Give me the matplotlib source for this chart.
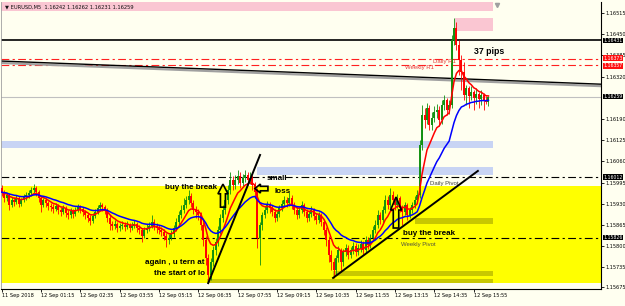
import numpy as np
import pandas as pd
import matplotlib
matplotlib.use('Agg')
import matplotlib.pyplot as plt
from matplotlib.patches import Rectangle, Polygon
from matplotlib.transforms import blended_transform_factory

# EURUSD M5, 11/12 Sep 2018, one candle every 5 minutes
open_first = 1.15979
close = [
    1.15966, 1.15948, 1.15957, 1.15926, 1.15942, 1.15936, 1.15948, 1.15929, 1.15942, 1.15951,
    1.15957, 1.15963, 1.15972, 1.15979, 1.15966, 1.15948, 1.15926, 1.15942, 1.15933, 1.15923,
    1.15920, 1.15914, 1.15923, 1.15911, 1.15905, 1.15917, 1.15902, 1.15896, 1.15908, 1.15899,
    1.15911, 1.15920, 1.15914, 1.15905, 1.15896, 1.15887, 1.15877, 1.15893, 1.15905, 1.15917,
    1.15926, 1.15920, 1.15911, 1.15887, 1.15868, 1.15862, 1.15868, 1.15856, 1.15862, 1.15865,
    1.15859, 1.15865, 1.15856, 1.15862, 1.15868, 1.15856, 1.15850, 1.15831, 1.15850, 1.15856,
    1.15862, 1.15874, 1.15862, 1.15856, 1.15850, 1.15844, 1.15831, 1.15819, 1.15825, 1.15837,
    1.15856, 1.15874, 1.15896, 1.15911, 1.15926, 1.15942, 1.15954, 1.15933, 1.15911, 1.15905,
    1.15896, 1.15865, 1.15819, 1.15764, 1.15712, 1.15752, 1.15788, 1.15813, 1.15850, 1.15887,
    1.15911, 1.15942, 1.15972, 1.16003, 1.15988, 1.16003, 1.16015, 1.15994, 1.16009, 1.16018,
    1.16003, 1.16009, 1.15988, 1.15966, 1.15825, 1.15865, 1.15896, 1.15911, 1.15926, 1.15917,
    1.15905, 1.15887, 1.15899, 1.15917, 1.15929, 1.15942, 1.15933, 1.15948, 1.15926, 1.15911,
    1.15896, 1.15911, 1.15926, 1.15905, 1.15887, 1.15899, 1.15911, 1.15893, 1.15880, 1.15896,
    1.15874, 1.15850, 1.15819, 1.15773, 1.15752, 1.15727, 1.15764, 1.15788, 1.15752, 1.15782,
    1.15795, 1.15773, 1.15788, 1.15801, 1.15782, 1.15795, 1.15807, 1.15788, 1.15819, 1.15804,
    1.15825, 1.15850, 1.15865, 1.15896, 1.15880, 1.15911, 1.15942, 1.15926, 1.15957, 1.15942,
    1.15926, 1.15948, 1.15917, 1.15905, 1.15926, 1.15896, 1.15911, 1.15926, 1.15942, 1.15957,
    1.16110, 1.16202, 1.16187, 1.16224, 1.16172, 1.16193, 1.16211, 1.16218, 1.16187, 1.16233,
    1.16248, 1.16218, 1.16233, 1.16432, 1.16469, 1.16417, 1.16371, 1.16334, 1.16264, 1.16285,
    1.16261, 1.16273, 1.16254, 1.16267, 1.16251, 1.16264, 1.16248, 1.16242, 1.16259,
]
high = [
    1.15988, 1.15972, 1.15963, 1.15963, 1.15951, 1.15951, 1.15957, 1.15954, 1.15948, 1.15960,
    1.15966, 1.15972, 1.15982, 1.15991, 1.15985, 1.15972, 1.15954, 1.15948, 1.15948, 1.15939,
    1.15933, 1.15929, 1.15933, 1.15929, 1.15920, 1.15926, 1.15923, 1.15911, 1.15917, 1.15914,
    1.15920, 1.15929, 1.15926, 1.15920, 1.15911, 1.15902, 1.15896, 1.15902, 1.15914, 1.15926,
    1.15936, 1.15933, 1.15926, 1.15917, 1.15896, 1.15877, 1.15880, 1.15874, 1.15871, 1.15877,
    1.15874, 1.15877, 1.15871, 1.15874, 1.15880, 1.15874, 1.15865, 1.15856, 1.15859, 1.15868,
    1.15874, 1.15896, 1.15883, 1.15871, 1.15865, 1.15859, 1.15853, 1.15841, 1.15837, 1.15850,
    1.15865, 1.15887, 1.15908, 1.15926, 1.15948, 1.15954, 1.15972, 1.15963, 1.15942, 1.15923,
    1.15914, 1.15905, 1.15874, 1.15831, 1.15776, 1.15764, 1.15801, 1.15825, 1.15862, 1.15899,
    1.15926, 1.15957, 1.15988, 1.16028, 1.16015, 1.16018, 1.16034, 1.16028, 1.16021, 1.16034,
    1.16028, 1.16028, 1.16018, 1.15997, 1.15979, 1.15874, 1.15905, 1.15923, 1.15939, 1.15936,
    1.15926, 1.15914, 1.15908, 1.15926, 1.15942, 1.15954, 1.15951, 1.15966, 1.15957, 1.15936,
    1.15920, 1.15920, 1.15939, 1.15933, 1.15914, 1.15908, 1.15923, 1.15917, 1.15902, 1.15905,
    1.15902, 1.15883, 1.15859, 1.15831, 1.15788, 1.15764, 1.15773, 1.15801, 1.15795, 1.15791,
    1.15807, 1.15804, 1.15798, 1.15813, 1.15810, 1.15807, 1.15819, 1.15816, 1.15831, 1.15828,
    1.15837, 1.15862, 1.15880, 1.15911, 1.15905, 1.15923, 1.15957, 1.15954, 1.15979, 1.15969,
    1.15951, 1.15960, 1.15954, 1.15926, 1.15936, 1.15933, 1.15920, 1.15936, 1.15954, 1.15972,
    1.16126, 1.16233, 1.16224, 1.16239, 1.16233, 1.16211, 1.16230, 1.16236, 1.16230, 1.16248,
    1.16264, 1.16254, 1.16248, 1.16448, 1.16500, 1.16487, 1.16432, 1.16386, 1.16365, 1.16294,
    1.16291, 1.16291, 1.16279, 1.16285, 1.16273, 1.16279, 1.16270, 1.16261, 1.16262,
]
low = [
    1.15954, 1.15936, 1.15939, 1.15911, 1.15920, 1.15923, 1.15929, 1.15920, 1.15923, 1.15936,
    1.15942, 1.15948, 1.15954, 1.15963, 1.15954, 1.15936, 1.15905, 1.15920, 1.15920, 1.15911,
    1.15908, 1.15902, 1.15908, 1.15899, 1.15893, 1.15899, 1.15890, 1.15883, 1.15887, 1.15887,
    1.15893, 1.15905, 1.15902, 1.15893, 1.15883, 1.15874, 1.15865, 1.15871, 1.15887, 1.15899,
    1.15911, 1.15908, 1.15899, 1.15874, 1.15850, 1.15850, 1.15853, 1.15844, 1.15847, 1.15853,
    1.15847, 1.15853, 1.15844, 1.15850, 1.15856, 1.15844, 1.15837, 1.15813, 1.15825, 1.15841,
    1.15847, 1.15856, 1.15850, 1.15841, 1.15837, 1.15831, 1.15819, 1.15798, 1.15807, 1.15819,
    1.15828, 1.15847, 1.15865, 1.15887, 1.15902, 1.15917, 1.15929, 1.15920, 1.15899, 1.15887,
    1.15880, 1.15850, 1.15801, 1.15742, 1.15687, 1.15696, 1.15739, 1.15773, 1.15801, 1.15837,
    1.15874, 1.15899, 1.15929, 1.15960, 1.15972, 1.15975, 1.15991, 1.15979, 1.15982, 1.15997,
    1.15988, 1.15991, 1.15972, 1.15948, 1.15795, 1.15742, 1.15850, 1.15887, 1.15902, 1.15902,
    1.15893, 1.15874, 1.15877, 1.15890, 1.15908, 1.15920, 1.15920, 1.15923, 1.15914, 1.15899,
    1.15883, 1.15887, 1.15902, 1.15893, 1.15874, 1.15877, 1.15890, 1.15880, 1.15868, 1.15871,
    1.15862, 1.15834, 1.15801, 1.15752, 1.15727, 1.15703, 1.15712, 1.15752, 1.15721, 1.15739,
    1.15770, 1.15761, 1.15764, 1.15776, 1.15770, 1.15773, 1.15782, 1.15776, 1.15779, 1.15791,
    1.15795, 1.15816, 1.15841, 1.15856, 1.15868, 1.15871, 1.15902, 1.15914, 1.15917, 1.15929,
    1.15911, 1.15917, 1.15905, 1.15865, 1.15896, 1.15880, 1.15887, 1.15902, 1.15917, 1.15933,
    1.15948, 1.16095, 1.16162, 1.16175, 1.16156, 1.16156, 1.16181, 1.16193, 1.16169, 1.16175,
    1.16218, 1.16202, 1.16205, 1.16224, 1.16417, 1.16402, 1.16325, 1.16279, 1.16248, 1.16233,
    1.16224, 1.16248, 1.16218, 1.16236, 1.16224, 1.16233, 1.16218, 1.16236, 1.16231,
]

time_labels = ['11 Sep 2018', '12 Sep 01:15', '12 Sep 02:35', '12 Sep 03:55', '12 Sep 05:15',
               '12 Sep 06:35', '12 Sep 07:55', '12 Sep 09:15', '12 Sep 10:35', '12 Sep 11:55',
               '12 Sep 13:15', '12 Sep 14:35', '12 Sep 15:55']
price_ticks = [1.16515, 1.16450, 1.16385, 1.16320, 1.16190, 1.16125, 1.16060,
               1.15995, 1.15930, 1.15865, 1.15800, 1.15735, 1.15675]

resistance = 1.16431
daily_r1 = 1.16373
weekly_r1 = 1.16357
daily_pivot = 1.16012
weekly_pivot = 1.15826
trend_start, trend_end = 1.16368, 1.16297   # long falling line, at chart edges

# zones: first bar, last bar, bottom price, top price
pink_zones = [(-1, 199.8, 1.16521, 1.16600), (184.4, 199.8, 1.16460, 1.16500)]
blue_zones = [(-1, 199.8, 1.16102, 1.16123), (103.9, 199.8, 1.16019, 1.16043)]
olive_zones = [(168.1, 199.8, 1.15868, 1.15887), (134.8, 199.8, 1.15709, 1.15724),
               (83.5, 199.8, 1.15687, 1.15700)]
yellow_zone = (-1, 250, 1.15687, 1.15985)

# hand drawn trend lines (bar, price)
uturn_line = [(84.0, 1.15687), (105.1, 1.16080)]
support_line = [(134.8, 1.15703), (193.7, 1.16031)]

bg = '#fffff0'
xmin, xmax = -0.285, 243.79
ymin, ymax = 1.15669, 1.16549

fig = plt.figure(figsize=(6.25, 3.06), dpi=100, facecolor=bg)
ax = fig.add_axes([1 / 625, 17 / 306, 600 / 625, 287 / 306], facecolor=bg)
ax.set_xlim(xmin, xmax)
ax.set_ylim(ymin, ymax)

for x0, x1, y0, y1 in pink_zones:
    ax.add_patch(Rectangle((x0, y0), x1 - x0, y1 - y0, fc='#fac6d2', ec='none', zorder=1))
x0, x1, y0, y1 = yellow_zone
ax.add_patch(Rectangle((x0, y0), x1 - x0, y1 - y0, fc='#ffff00', ec='none', zorder=1))
for x0, x1, y0, y1 in blue_zones:
    ax.add_patch(Rectangle((x0, y0), x1 - x0, y1 - y0, fc='#c8d4f4', ec='none', zorder=1))
for x0, x1, y0, y1 in olive_zones:
    ax.add_patch(Rectangle((x0, y0), x1 - x0, y1 - y0, fc='#c8c800', ec='none', zorder=1.1))

dashdot = (0, (7, 3, 2, 3))
ax.axhline(resistance, color='black', lw=1.2, zorder=2)
ax.axhline(daily_r1, color='#ff2020', lw=0.8, ls=dashdot, zorder=2)
ax.axhline(weekly_r1, color='#ff2020', lw=0.8, ls=dashdot, zorder=2)
ax.axhline(close[-1], color='#c0c0c0', lw=0.8, zorder=2)
ax.axhline(daily_pivot, color='black', lw=0.8, ls=dashdot, zorder=2)
ax.axhline(weekly_pivot, color='black', lw=0.8, ls=dashdot, zorder=2)
ax.plot([xmin, xmax], [trend_start - 0.00006, trend_end - 0.00006], color='#a0a0a0', lw=1.6, zorder=2)
ax.plot([xmin, xmax], [trend_start, trend_end], color='black', lw=1.0, zorder=2)

# chart shift marker
ax.plot([201.5], [1.16540], marker='v', ms=3, color='#a0a0a0', zorder=2, clip_on=False)

# candles
opens = [open_first] + close[:-1]
n = len(close)
bars = np.arange(n)
up = np.array(close) >= np.array(opens)
cols = np.where(up, '#10900f', '#ff0000')
ax.vlines(bars, low, high, colors=cols, lw=0.6, zorder=3)
ax.vlines(bars, opens, close, colors=cols, lw=1.4, zorder=3)

# moving averages
s = pd.Series(close)
ax.plot(bars, s.ewm(span=8, adjust=False).mean(), color='#ff0000', lw=1.1, zorder=4)
ax.plot(bars, s.ewm(span=21, adjust=False).mean(), color='#0000ff', lw=1.1, zorder=4)

# trend lines drawn on the chart
for line in (uturn_line, support_line):
    ax.plot([p[0] for p in line], [p[1] for p in line], color='black', lw=1.4, zorder=5)


def hollow_arrow(x, y, w, h, direction='up'):
    sx = (xmax - xmin) / 600.0
    sy = (ymax - ymin) / 287.0
    sw, hl = 0.5 * w, 0.42 * h
    pts = [(-sw / 2, 0), (sw / 2, 0), (sw / 2, h - hl), (w / 2, h - hl), (0, h),
           (-w / 2, h - hl), (-sw / 2, h - hl)]
    if direction == 'left':
        pts = [(-py, px) for px, py in pts]
    poly = [(x + px * sx, y + py * sy) for px, py in pts]
    ax.add_patch(Polygon(poly, closed=True, fill=False, ec='black', lw=1.2, zorder=6))


hollow_arrow(90.0, 1.15920, 10, 23)
hollow_arrow(160.4, 1.15856, 11, 31)
hollow_arrow(108.3, 1.15977, 9, 13, 'left')

note = dict(family='Liberation Sans', fontweight='bold', fontsize=5.8, color='black', zorder=7)
ax.text(66.4, 1.15979, 'buy the break', va='center', **note)
ax.text(107.9, 1.16009, 'small', va='center', **note)
ax.text(110.8, 1.15969, 'loss', va='center', **note)
ax.text(82.7, 1.15749, 'again , u tern at', ha='right', va='center', **note)
ax.text(82.7, 1.15715, 'the start of lo', ha='right', va='center', **note)
ax.text(163.2, 1.15840, 'buy the break', va='center', **note)
ax.text(192.1, 1.16398, '37 pips', va='center', **dict(note, fontsize=6.3))

lab = dict(family='Liberation Sans', fontsize=4.3, va='center', zorder=7)
ax.text(174.2, 1.15994, 'Daily Pivot', color='#404040', **lab)
ax.text(162.4, 1.15805, 'Weekly Pivot', color='#505040', **lab)
ax.text(175.4, 1.16367, 'Daily R1', color='#e83a3a', **lab)
ax.text(164.1, 1.16349, 'Weekly R1', color='#e83a3a', **lab)

title = '\u25bc EURUSD,M5  ' + ' '.join('%.5f' % v for v in (opens[-1], high[-1], low[-1], close[-1]))
ax.text(0.007, 0.983, title, transform=ax.transAxes, fontsize=3.7, color='#101010',
        va='center', family='DejaVu Sans', zorder=8)

# axes like the terminal
ax.spines['top'].set_visible(False)
ax.spines['left'].set_color('#a0a0a0')
ax.spines['left'].set_linewidth(0.6)
for side in ('right', 'bottom'):
    ax.spines[side].set_color('black')
    ax.spines[side].set_linewidth(0.8)

ax.yaxis.tick_right()
ax.set_yticks(price_ticks)
ax.set_yticklabels(['%.5f' % p for p in price_ticks])
ax.set_xticks(range(0, 16 * len(time_labels), 16))
ax.set_xticklabels(time_labels)
ax.tick_params(axis='both', labelsize=3.6, length=2, width=0.6, colors='black', pad=1.2)
for t in ax.get_xticklabels():
    t.set_ha('left')

# price boxes on the scale; the two R1 boxes are nudged apart so they stack
tr = blended_transform_factory(ax.transAxes, ax.transData)
nudge = 0.00004
for level, shift, colour in ((resistance, 0, 'black'), (daily_r1, nudge, '#ff1010'),
                             (weekly_r1, -nudge, '#ff1010'), (close[-1], 0, 'black'),
                             (daily_pivot, 0, 'black'), (weekly_pivot, 0, 'black')):
    ax.text(1.004, level + shift, '%.5f' % level, transform=tr, fontsize=3.3, color='white',
            va='center', ha='left', family='DejaVu Sans', clip_on=False, zorder=9,
            bbox=dict(boxstyle='square,pad=0.04', fc=colour, ec='none'))

fig.savefig('out.png', dpi=100, facecolor=bg)
